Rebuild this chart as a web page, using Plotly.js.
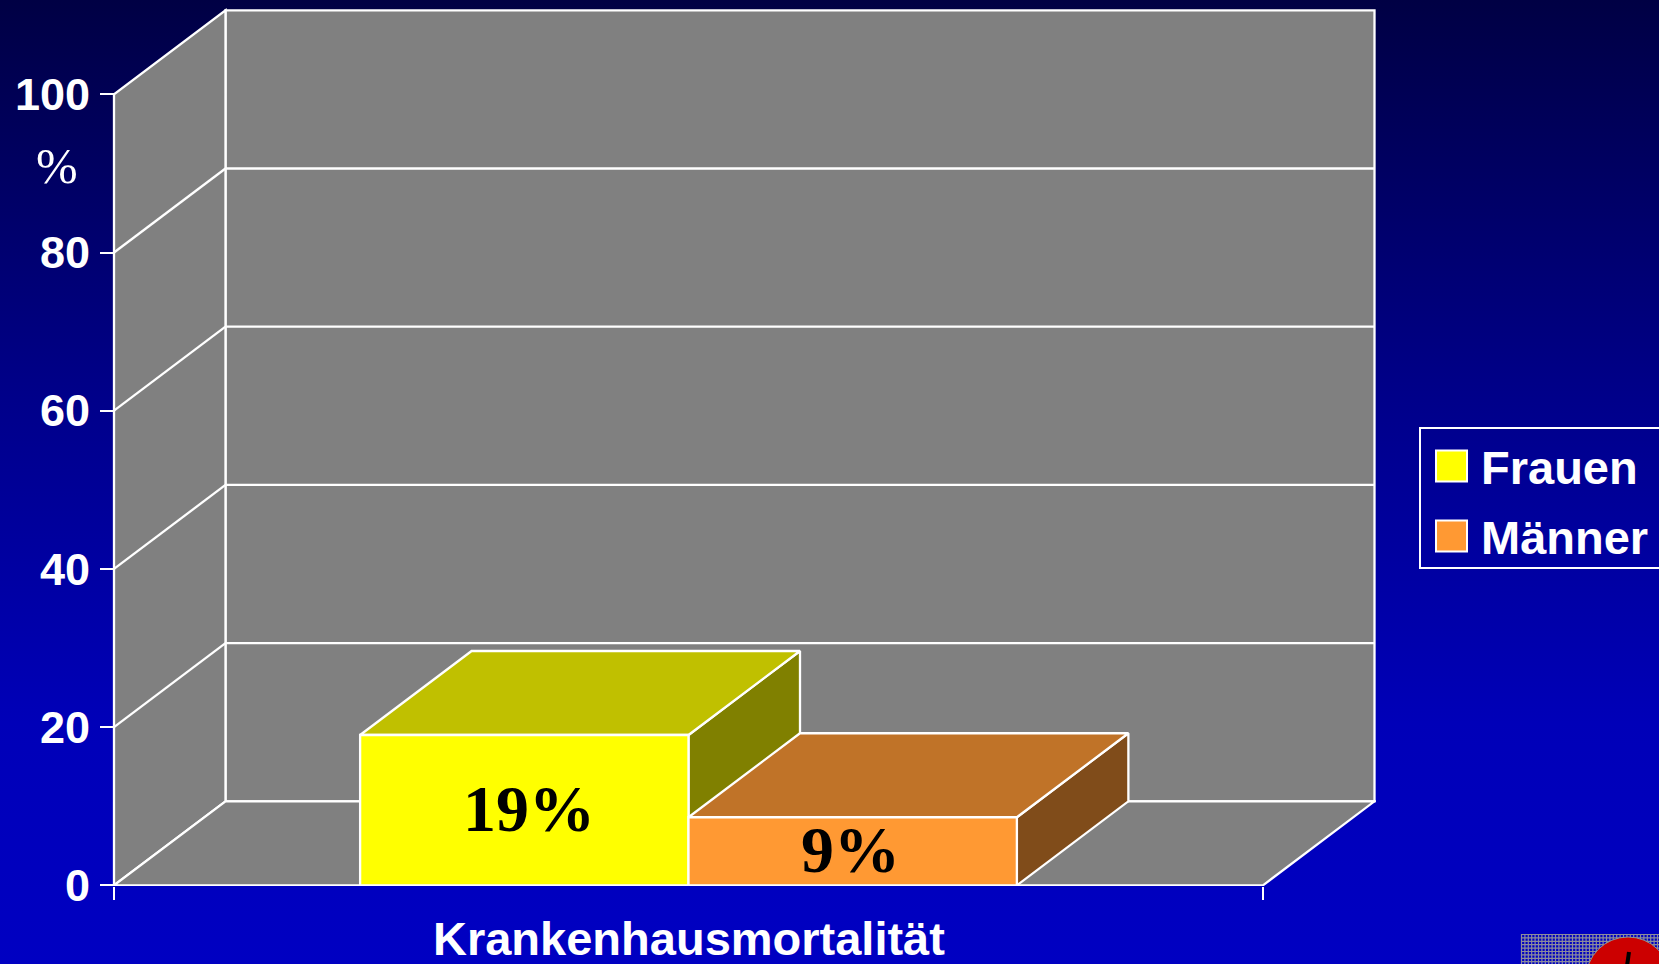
<!DOCTYPE html>
<html>
<head>
<meta charset="utf-8">
<script src="https://cdn.plot.ly/plotly-3.0.1.min.js"></script>
<style>
  html, body { margin: 0; padding: 0; width: 1659px; height: 964px; overflow: hidden;
    background: linear-gradient(to bottom, #000044 0%, #000088 40%, #0000b8 75%, #0000c2 100%); }
  #chart { width: 1659px; height: 964px; }
</style>
</head>
<body>
<div id="chart"></div>
<script>
// ---- data ----
const categories = ['Krankenhausmortalität'];
const seriesNames = ['Frauen', 'Männer'];
const values = [19, 8.6];
const valueLabels = ['19%', '9%'];
const yTickVals = [0, 20, 40, 60, 80, 100];
const yTickText = ['0', '20', '40', '60', '80', '100'];
const frontColors = ['#FFFF00', '#FF9933'];
const topColors = ['#C0C000', '#C07328'];
const sideColors = ['#808000', '#804C1A'];
const labelShift = [5, -2];

// ---- geometry (pixel layout) ----
const W = 1659, H = 964;
const L = 112, R = 1376, T = 8, B = 886;
const PXU = 1149;          // px per x unit (front plane width = 1)
const PYU = 7.91;          // px per y unit (percent)
const X0PX = 114, Y0PX = 885.3;
const DX = 111.5 / PXU;    // depth offset in x units
const DY = 84 / PYU;       // depth offset in y units
const YMAX = 100;
const BW = 0.2858;         // bar width (x units)

const xr = [(L - X0PX) / PXU, (R - X0PX) / PXU];
const yr = [(Y0PX - B) / PYU, (Y0PX - T) / PYU];
const px = p => (p - L) / (R - L);
const py = p => (B - p) / (B - T);

const WHITE = '#FFFFFF';
const GRAY = '#808080';
const LW = 2.3;
const shapes = [];
function poly(pts, fill, layer) {
  const d = 'M' + pts.map(p => p[0] + ',' + p[1]).join('L') + 'Z';
  shapes.push({type: 'path', xref: 'x', yref: 'y', path: d, fillcolor: fill,
               line: {color: WHITE, width: LW}, layer: layer || 'below'});
}
function seg(x0, y0, x1, y1) {
  shapes.push({type: 'line', xref: 'x', yref: 'y', x0: x0, y0: y0, x1: x1, y1: y1,
               line: {color: WHITE, width: LW}, layer: 'below'});
}
// walls
poly([[DX, DY], [1 + DX, DY], [1 + DX, YMAX + DY], [DX, YMAX + DY]], GRAY);
poly([[0, 0], [DX, DY], [DX, YMAX + DY], [0, YMAX]], GRAY);
poly([[0, 0], [1, 0], [1 + DX, DY], [DX, DY]], GRAY);
// gridlines
yTickVals.forEach(v => {
  if (v === 0 || v === YMAX) return;
  seg(0, v, DX, v + DY);
  seg(DX, v + DY, 1 + DX, v + DY);
});

// ---- bars as 3D boxes built from values ----
const traces = [];
const annotations = [];
const catCenter = 0.5;
values.forEach((v, i) => {
  const x0 = catCenter - BW * seriesNames.length / 2 + i * BW;
  const x1 = x0 + BW;
  const faces = [
    {pts: [[x1, 0], [x1 + DX, DY], [x1 + DX, v + DY], [x1, v]], c: sideColors[i]},
    {pts: [[x0, v], [x1, v], [x1 + DX, v + DY], [x0 + DX, v + DY]], c: topColors[i]},
    {pts: [[x0, 0], [x1, 0], [x1, v], [x0, v]], c: frontColors[i]}
  ];
  faces.forEach(f => {
    const xs = f.pts.map(p => p[0]); xs.push(f.pts[0][0]);
    const ys = f.pts.map(p => p[1]); ys.push(f.pts[0][1]);
    traces.push({type: 'scatter', mode: 'lines', x: xs, y: ys, fill: 'toself',
      fillcolor: f.c, line: {color: WHITE, width: LW}, hoverinfo: 'skip',
      showlegend: false, name: seriesNames[i]});
  });
  annotations.push({xref: 'x', yref: 'y', x: (x0 + x1) / 2, y: v / 2, xshift: labelShift[i],
    yshift: 2, text: valueLabels[i], showarrow: false, xanchor: 'center', yanchor: 'middle',
    font: {family: 'Liberation Serif, Times New Roman, serif', size: 66, color: '#000000', weight: 'bold'}});
});

// axis unit label
annotations.push({xref: 'paper', yref: 'paper', x: px(57), y: py(166), text: '%',
  showarrow: false, xanchor: 'center', yanchor: 'middle',
  font: {family: 'Liberation Serif, Times New Roman, serif', size: 50, color: WHITE}});
// category label
annotations.push({xref: 'paper', yref: 'paper', x: px(X0PX + catCenter * PXU), y: py(938),
  text: categories[0], showarrow: false, xanchor: 'center', yanchor: 'middle',
  font: {family: 'Liberation Sans, Arial, sans-serif', size: 47, color: WHITE, weight: 'bold'}});

// ---- custom legend ----
shapes.push({type: 'rect', xref: 'paper', yref: 'paper', x0: px(1420), x1: px(1670),
  y0: py(568), y1: py(428), line: {color: WHITE, width: 2}, fillcolor: 'rgba(0,0,0,0)'});
const legRows = [466, 536];
seriesNames.forEach((n, i) => {
  const cy = legRows[i];
  shapes.push({type: 'rect', xref: 'paper', yref: 'paper', x0: px(1436), x1: px(1467),
    y0: py(cy + 15.5), y1: py(cy - 15.5), fillcolor: frontColors[i], line: {color: WHITE, width: 2}});
  annotations.push({xref: 'paper', yref: 'paper', x: px(1479), y: py(cy + 1), text: n,
    showarrow: false, xanchor: 'left', yanchor: 'middle',
    font: {family: 'Liberation Sans, Arial, sans-serif', size: 47, color: WHITE, weight: 'bold'}});
});

// ---- corner logo fragment (grid + red disc) ----
for (let gx = 1521.5; gx < 1660; gx += 3.4) {
  shapes.push({type: 'line', xref: 'paper', yref: 'paper', x0: px(gx), x1: px(gx),
    y0: py(934), y1: py(966), line: {color: '#8c8c9c', width: 1.2}});
}
for (let gy = 934.5; gy < 966; gy += 3.4) {
  shapes.push({type: 'line', xref: 'paper', yref: 'paper', x0: px(1521), x1: px(1660),
    y0: py(gy), y1: py(gy), line: {color: '#8c8c9c', width: 1.2}});
}
shapes.push({type: 'circle', xref: 'paper', yref: 'paper', x0: px(1586), x1: px(1670),
  y0: py(1021), y1: py(937), fillcolor: '#CC0000', line: {color: '#909090', width: 1}});
shapes.push({type: 'line', xref: 'paper', yref: 'paper', x0: px(1629), x1: px(1627),
  y0: py(952), y1: py(966), line: {color: '#000000', width: 4}});

const layout = {
  width: W, height: H, autosize: false,
  margin: {l: L, r: W - R, t: T, b: H - B, pad: 0},
  paper_bgcolor: 'rgba(0,0,0,0)', plot_bgcolor: 'rgba(0,0,0,0)',
  showlegend: false,
  xaxis: {range: xr, tickvals: [0, 1], ticks: 'outside', ticklen: 13, tickwidth: 2,
    tickcolor: WHITE, showticklabels: false, showgrid: false, zeroline: false,
    showline: false, fixedrange: true},
  yaxis: {range: yr, tickvals: yTickVals, ticktext: yTickText, ticks: 'outside',
    ticklen: 14, tickwidth: 2, tickcolor: WHITE, showgrid: false, zeroline: false,
    showline: false, anchor: 'free', position: px(X0PX), ticklabelstandoff: 1,
    tickfont: {family: 'Liberation Sans, Arial, sans-serif', size: 45, color: WHITE, weight: 'bold'},
    fixedrange: true},
  shapes: shapes,
  annotations: annotations
};
Plotly.newPlot('chart', traces, layout, {displayModeBar: false, staticPlot: true});
</script>
</body>
</html>
